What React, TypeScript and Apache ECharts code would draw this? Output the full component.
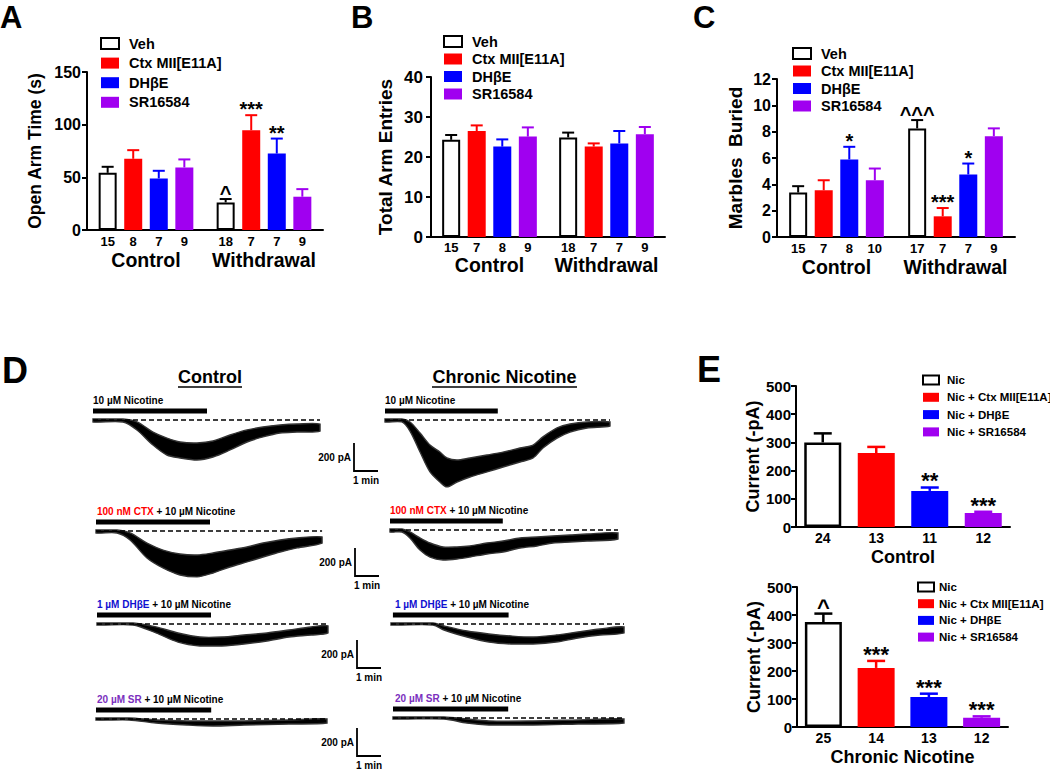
import React, { useEffect, useRef } from 'react';
import * as echarts from 'echarts';

const FONT = '"Liberation Sans", Arial, Helvetica, sans-serif';
const RED = '#FF0000';
const BLUE = '#0000FF';
const PURPLE = '#A000F0';
const fills = ['#FFFFFF', RED, BLUE, PURPLE];
const strokes = ['#000000', RED, BLUE, PURPLE];

// ---------------- Panels A-C data ----------------
const groupNames = ['Control', 'Withdrawal'];
const treatments = ['Veh', 'Ctx MII[E11A]', 'DHβE', 'SR16584'];

const openArmTicks = [0, 50, 100, 150];
const openArmMean = [[54.3, 26.2], [67.6, 94.7], [49.0, 72.6], [59.4, 31.6]];
const openArmUpper = [[60.0, 29.4], [75.8, 109.0], [56.2, 86.8], [67.0, 38.8]];
const openArmN = [['15', '18'], ['8', '7'], ['7', '7'], ['9', '9']];
const openArmMarks = [['', '^'], ['', '***'], ['', '**'], ['', '']];

const armEntryTicks = [0, 10, 20, 30, 40];
const armEntryMean = [[24.3, 24.9], [26.5, 22.6], [22.6, 23.4], [25.1, 25.7]];
const armEntryUpper = [[25.5, 26.1], [27.9, 23.4], [24.4, 26.5], [27.4, 27.5]];
const armEntryN = [['15', '18'], ['7', '7'], ['8', '7'], ['9', '9']];
const armEntryMarks = [['', ''], ['', ''], ['', ''], ['', '']];

const marbleTicks = [0, 2, 4, 6, 8, 10, 12];
const marbleMean = [[3.38, 8.25], [3.55, 1.57], [5.89, 4.75], [4.31, 7.66]];
const marbleUpper = [[3.86, 8.88], [4.31, 2.2], [6.85, 5.58], [5.2, 8.25]];
const marbleN = [['15', '17'], ['7', '7'], ['8', '7'], ['10', '9']];
const marbleMarks = [['', '^^^'], ['', '***'], ['*', '*'], ['', '']];

// ---------------- Panel E data ----------------
const ephysTreatments = ['Nic', 'Nic + Ctx MII[E11A]', 'Nic + DHβE', 'Nic + SR16584'];
const currentTicks = [0, 100, 200, 300, 400, 500];
const currentCtlMean = [300, 262, 128, 50];
const currentCtlUpper = [332, 284, 140, 54];
const currentCtlN = ['24', '13', '11', '12'];
const currentCtlMarks = ['', '', '**', '***'];
const currentChrMean = [375, 211, 107, 33];
const currentChrUpper = [405, 236, 119, 38];
const currentChrN = ['25', '14', '13', '12'];
const currentChrMarks = ['^', '***', '***', '***'];

// ---------------- Panel D traces: [time (min), upper edge (pA), lower edge (pA)] ----------------
const traceCtl1 = [[0, 7, -14], [1.25, 7, -14], [1.83, -14, -71], [2.5, -86, -179], [3.08, -129, -250], [3.63, -157, -271], [4.33, -164, -286], [5.0, -150, -264], [5.71, -107, -214], [6.42, -71, -157], [7.08, -50, -121], [7.79, -36, -93], [8.5, -29, -86], [9.46, -29, -79]];
const traceCtl2 = [[0, 7, -14], [0.875, 7, -14], [1.42, -14, -64], [2.125, -86, -193], [2.79, -136, -264], [3.5, -164, -314], [4.21, -171, -328], [4.875, -157, -300], [5.58, -136, -257], [6.29, -114, -221], [6.96, -86, -186], [7.67, -64, -150], [8.375, -50, -121], [9.42, -43, -86]];
const traceCtl3 = [[0, 7, -7], [1.5, 7, -7], [2.46, -21, -64], [3.375, -64, -129], [4.29, -93, -157], [5.2, -93, -157], [6.125, -79, -143], [7.08, -64, -121], [8.0, -43, -93], [8.92, -21, -79], [9.625, -14, -64]];
const traceCtl4 = [[0, 7, -7], [1.375, 7, -7], [2.5, -7, -29], [3.79, -14, -43], [4.875, -14, -50], [6.17, -14, -43], [8.04, -7, -36], [9.625, 0, -29]];
const traceChr1 = [[0, 7, -14], [0.7, 7, -14], [1.04, -14, -79], [1.46, -93, -229], [1.875, -179, -371], [2.29, -229, -443], [2.58, -271, -478], [3.0, -286, -443], [3.54, -271, -407], [4.25, -250, -371], [4.92, -229, -336], [5.625, -200, -300], [6.17, -179, -271], [6.58, -121, -200], [7.17, -57, -129], [7.71, -29, -86], [8.42, -14, -57], [9.375, -14, -43]];
const traceChr2 = [[0, 7, -14], [0.5, 7, -14], [0.83, -14, -57], [1.25, -57, -143], [1.67, -93, -193], [2.21, -121, -214], [2.79, -121, -207], [3.33, -114, -193], [4.04, -93, -171], [4.71, -79, -157], [5.42, -57, -129], [6.125, -50, -114], [6.79, -43, -93], [7.5, -36, -86], [8.21, -29, -79], [9.5, -21, -64]];
const traceChr3 = [[0, 7, -7], [1.75, 7, -7], [2.21, -14, -43], [3.17, -50, -93], [4.08, -71, -129], [5.0, -86, -143], [5.92, -93, -143], [6.875, -79, -129], [7.79, -57, -100], [8.71, -36, -79], [9.71, -21, -64]];
const traceChr4 = [[0, 7, -7], [2.125, 7, -7], [3.08, -7, -36], [4.0, -21, -50], [5.83, -21, -50], [7.71, -14, -43], [9.625, -7, -36]];
// drug application window (min)
const drugWindows = [[0, 4.75], [0, 4.75], [0, 4.75], [0, 4.8], [0, 4.7], [0, 4.7], [0.08, 4.9], [0, 4.8]];
const drugLabels = [
  [['10 µM Nicotine', '#000']],
  [['100 nM CTX', RED], [' + 10 µM Nicotine', '#000']],
  [['1 µM DHβE', '#1010D0'], [' + 10 µM Nicotine', '#000']],
  [['20 µM SR', '#7B2FBE'], [' + 10 µM Nicotine', '#000']],
];

// ---------------- layout ----------------
const PX_PER_MIN = 24;
const PA_PER_PX = 200 / 28;
const TRACE_MIN = -500;
const TRACE_MAX = 100;
const DRUG_LEVEL = 64;

const traceData = [traceCtl1, traceCtl2, traceCtl3, traceCtl4, traceChr1, traceChr2, traceChr3, traceChr4];
const traceBoxes = [
  { left: 93, base: 420, labelX: 93 }, { left: 96, base: 531, labelX: 97 },
  { left: 97, base: 624, labelX: 97 }, { left: 96, base: 719, labelX: 97 },
  { left: 385, base: 420, labelX: 385 }, { left: 390, base: 530, labelX: 390 },
  { left: 391, base: 624, labelX: 395 }, { left: 393, base: 718, labelX: 395 },
];
const scaleBarPos = [{ x: 354, y: 443 }, { x: 355, y: 548 }, { x: 357, y: 640 }, { x: 357, y: 728 }];

const abcPanels = [
  { mean: openArmMean, upper: openArmUpper, n: openArmN, marks: openArmMarks, ticks: openArmTicks, name: 'Open Arm Time (s)',
    grid: { left: 87, top: 72, width: 236, height: 158 }, nameGap: 43, nameSize: 17.5, tickSize: 16, tickMargin: 6, catMargin: 20, nGap: 11,
    legend: { left: 100, top: 36, itemGap: 4.6 } },
  { mean: armEntryMean, upper: armEntryUpper, n: armEntryN, marks: armEntryMarks, ticks: armEntryTicks, name: 'Total Arm Entries',
    grid: { left: 431, top: 77, width: 234, height: 160 }, nameGap: 36, nameSize: 19, tickSize: 17, tickMargin: 8, catMargin: 18, nGap: 10,
    legend: { left: 443, top: 34, itemGap: 2.5 } },
  { mean: marbleMean, upper: marbleUpper, n: marbleN, marks: marbleMarks, ticks: marbleTicks, name: 'Marbles  Buried',
    grid: { left: 777, top: 79, width: 238, height: 158 }, nameGap: 32, nameSize: 19, tickSize: 16, tickMargin: 6, catMargin: 20, nGap: 11,
    legend: { left: 792, top: 46, itemGap: 2.5 } },
];

const ePanels = [
  { mean: currentCtlMean, upper: currentCtlUpper, n: currentCtlN, marks: currentCtlMarks, title: 'Control',
    grid: { left: 796, top: 386, width: 214, height: 141 }, legend: { left: 922, top: 374, itemGap: 5.3, pad: 3 } },
  { mean: currentChrMean, upper: currentChrUpper, n: currentChrN, marks: currentChrMarks, title: 'Chronic Nicotine',
    grid: { left: 797, top: 587, width: 211, height: 140 }, legend: { left: 917, top: 581, itemGap: 4.7, pad: 0 } },
];

const BAR_W = 18;
const BAR_GAP = 0.42;

function txt(fontSize: number, extra: any = {}) {
  return { fontSize, fontWeight: 'bold', fontFamily: FONT, color: '#000', ...extra };
}

function errRender(meta: any[], step: number, cap: number, lw: number, nSize: number, nGap: number, markSize: number, centered: boolean) {
  return (params: any, api: any) => {
    const cat = api.value(0);
    const i = api.value(1);
    const mean = api.value(2);
    const up = api.value(3);
    const base = api.coord([cat, 0]);
    const xc = base[0] + (centered ? 0 : step * (i - 1.5));
    const ym = api.coord([cat, mean])[1];
    const yu = api.coord([cat, up])[1];
    const col = strokes[i];
    const m = meta[params.dataIndex];
    const children: any[] = [
      { type: 'line', shape: { x1: xc, y1: ym, x2: xc, y2: yu }, style: { stroke: col, lineWidth: lw } },
      { type: 'line', shape: { x1: xc - cap / 2, y1: yu, x2: xc + cap / 2, y2: yu }, style: { stroke: col, lineWidth: lw } },
    ];
    if (m.n) {
      children.push({ type: 'text', style: { text: m.n, x: xc, y: base[1] + nGap, align: 'center', textAlign: 'center', verticalAlign: 'middle', textVerticalAlign: 'middle', fontSize: nSize, fontWeight: 'bold', fontFamily: FONT, fill: '#000' } });
    }
    if (m.mark) {
      children.push({ type: 'text', style: { text: m.mark, x: xc, y: yu + 0.2 * markSize, align: 'center', textAlign: 'center', verticalAlign: 'bottom', textVerticalAlign: 'bottom', fontSize: markSize, fontWeight: 'bold', fontFamily: FONT, fill: '#000' } });
    }
    return { type: 'group', children };
  };
}

function valueAxis(g: number, ticks: number[], name: string, nameGap: number, nameSize: number, tickSize: number, margin: number) {
  return {
    type: 'value', gridIndex: g, min: ticks[0], max: ticks[ticks.length - 1], interval: ticks[1] - ticks[0],
    name, nameLocation: 'middle', nameGap, nameTextStyle: txt(nameSize),
    axisLine: { show: true, lineStyle: { color: '#000', width: 2 } },
    axisTick: { show: true, length: 5, lineStyle: { color: '#000', width: 2 } },
    axisLabel: txt(tickSize, { margin }),
    splitLine: { show: false },
  };
}

function buildOption() {
  const grid: any[] = [];
  const xAxis: any[] = [];
  const yAxis: any[] = [];
  const series: any[] = [];
  const legend: any[] = [];
  const graphic: any[] = [];

  // ---- A, B, C
  abcPanels.forEach((P, p) => {
    grid.push({ ...P.grid, containLabel: false, outerBoundsMode: 'none' });
    xAxis.push({
      type: 'category', gridIndex: p, data: groupNames,
      axisLine: { show: true, lineStyle: { color: '#000', width: 2 } },
      axisTick: { show: false },
      axisLabel: txt(19.5, { margin: P.catMargin, interval: 0 }),
    });
    yAxis.push(valueAxis(p, P.ticks, P.name, P.nameGap, P.nameSize, P.tickSize, P.tickMargin));
    treatments.forEach((name, i) => {
      series.push({
        type: 'bar', name, xAxisIndex: p, yAxisIndex: p, data: P.mean[i], barWidth: BAR_W, barGap: `${BAR_GAP * 100}%`,
        itemStyle: { color: fills[i], borderColor: strokes[i], borderWidth: i === 0 ? 2 : 0 }, silent: true,
      });
    });
    const items: any[] = [];
    const meta: any[] = [];
    treatments.forEach((_, i) => {
      groupNames.forEach((__, c) => {
        items.push([c, i, P.mean[i][c], P.upper[i][c]]);
        meta.push({ n: P.n[i][c], mark: P.marks[i][c] });
      });
    });
    series.push({
      type: 'custom', xAxisIndex: p, yAxisIndex: p, data: items, encode: { x: 0, y: 3 }, clip: false, silent: true, z: 5,
      renderItem: errRender(meta, BAR_W * (1 + BAR_GAP), 12, 2, 13, P.nGap, 20, false),
    });
    legend.push({
      left: P.legend.left, top: P.legend.top, orient: 'vertical', itemWidth: 18, itemHeight: 11, itemGap: P.legend.itemGap,
      icon: 'rect', data: treatments, selectedMode: false, padding: 0,
      textStyle: txt(14.5, { lineHeight: 14, padding: [0, 0, 0, 5] }),
    });
  });

  // ---- E
  ePanels.forEach((P, e) => {
    const g = 3 + e;
    grid.push({ ...P.grid, containLabel: false, outerBoundsMode: 'none' });
    xAxis.push({
      type: 'category', gridIndex: g, data: P.n,
      name: P.title, nameLocation: 'middle', nameGap: 21, nameTextStyle: txt(18),
      axisLine: { show: true, lineStyle: { color: '#000', width: 2 } },
      axisTick: { show: false },
      axisLabel: txt(14, { margin: 4, interval: 0 }),
    });
    yAxis.push(valueAxis(g, currentTicks, 'Current (-pA)', 33, 18, 15, 5));
    ephysTreatments.forEach((name, i) => {
      series.push({
        type: 'bar', name, xAxisIndex: g, yAxisIndex: g, stack: 'e' + e, barWidth: 37,
        data: P.mean.map((v, j) => (j === i ? v : '-')),
        itemStyle: { color: fills[i], borderColor: strokes[i], borderWidth: i === 0 ? 2.5 : 0 }, silent: true,
      });
    });
    const items = P.mean.map((v, j) => [j, j, v, P.upper[j]]);
    const meta = P.mean.map((_, j) => ({ n: '', mark: P.marks[j] }));
    series.push({
      type: 'custom', xAxisIndex: g, yAxisIndex: g, data: items, encode: { x: 0, y: 3 }, clip: false, silent: true, z: 5,
      renderItem: errRender(meta, 0, 18, 2.5, 14, 10, 22, true),
    });
    legend.push({
      left: P.legend.left, top: P.legend.top, orient: 'vertical', itemWidth: 16, itemHeight: 9, itemGap: P.legend.itemGap,
      icon: 'rect', data: ephysTreatments, selectedMode: false, padding: 0,
      textStyle: txt(11.5, { lineHeight: 12, padding: [0, 0, 0, P.legend.pad] }),
    });
  });

  // ---- D traces
  traceData.forEach((tr, k) => {
    const g = 5 + k;
    const box = traceBoxes[k];
    const T = tr[tr.length - 1][0];
    grid.push({
      left: box.left, top: box.base - TRACE_MAX / PA_PER_PX, width: T * PX_PER_MIN,
      height: (TRACE_MAX - TRACE_MIN) / PA_PER_PX, containLabel: false, outerBoundsMode: 'none',
    });
    xAxis.push({ type: 'value', gridIndex: g, min: 0, max: T, show: false });
    yAxis.push({ type: 'value', gridIndex: g, min: TRACE_MIN, max: TRACE_MAX, show: false });
    series.push({
      type: 'custom', xAxisIndex: g, yAxisIndex: g, data: tr, encode: { x: 0, y: [1, 2] }, clip: false, silent: true, z: 2,
      renderItem: (params: any, api: any) => {
        if (params.dataIndex !== 0) return null;
        const top = tr.map((p) => api.coord([p[0], p[1]]));
        const bot = tr.map((p) => api.coord([p[0], p[2]])).reverse();
        const pts = top.concat(bot);
        const xs = pts.map((q: number[]) => q[0]);
        const ys = pts.map((q: number[]) => q[1]);
        return {
          type: 'polygon',
          shape: { points: pts, smooth: 0.3, smoothConstraint: [[Math.min(...xs), Math.min(...ys)], [Math.max(...xs), Math.max(...ys)]] },
          style: { fill: '#000', stroke: '#333', lineWidth: 1.4 },
        };
      },
    });
    series.push({
      type: 'line', xAxisIndex: g, yAxisIndex: g, data: [[0, 0], [T, 0]], symbol: 'none', silent: true, z: 3,
      lineStyle: { type: [5, 3], width: 1.3, color: '#000' },
    });
    series.push({
      type: 'line', xAxisIndex: g, yAxisIndex: g, data: [[drugWindows[k][0], DRUG_LEVEL], [drugWindows[k][1], DRUG_LEVEL]],
      symbol: 'none', silent: true, z: 3, lineStyle: { width: 5, color: '#000', cap: 'butt' },
    });
    // drug label
    const parts = drugLabels[k % 4];
    const rich: any = {};
    let text = '';
    parts.forEach((pt, j) => {
      rich['p' + j] = { fill: pt[1], color: pt[1], fontSize: 10, fontWeight: 'bold', fontFamily: FONT };
      text += `{p${j}|${pt[0]}}`;
    });
    graphic.push({
      type: 'text', x: box.labelX, y: box.base - 19.5, silent: true,
      style: { text, rich, fontSize: 10, fontWeight: 'bold', fontFamily: FONT, textAlign: 'left', textVerticalAlign: 'middle', align: 'left', verticalAlign: 'middle' },
    });
  });

  // ---- scale bars
  scaleBarPos.forEach((s) => {
    const h = 200 / PA_PER_PX;
    const w = PX_PER_MIN;
    graphic.push({ type: 'polyline', silent: true, shape: { points: [[s.x, s.y], [s.x, s.y + h], [s.x + w, s.y + h]] }, style: { stroke: '#000', lineWidth: 1.8, fill: null } });
    graphic.push({ type: 'text', x: s.x - 3, y: s.y + h / 2, silent: true, style: { text: '200 pA', fontSize: 10, fontWeight: 'bold', fontFamily: FONT, fill: '#000', textAlign: 'right', textVerticalAlign: 'middle', align: 'right', verticalAlign: 'middle' } });
    graphic.push({ type: 'text', x: s.x + w / 2, y: s.y + h + 9, silent: true, style: { text: '1 min', fontSize: 10, fontWeight: 'bold', fontFamily: FONT, fill: '#000', textAlign: 'center', textVerticalAlign: 'middle', align: 'center', verticalAlign: 'middle' } });
  });

  // ---- D column titles
  const titles = [{ t: 'Control', cx: 210, w: 64 }, { t: 'Chronic Nicotine', cx: 504.5, w: 145 }];
  titles.forEach((tt) => {
    graphic.push({ type: 'text', x: tt.cx, y: 377, silent: true, style: { text: tt.t, fontSize: 18, fontWeight: 'bold', fontFamily: FONT, fill: '#000', textAlign: 'center', textVerticalAlign: 'middle', align: 'center', verticalAlign: 'middle' } });
    graphic.push({ type: 'line', silent: true, shape: { x1: tt.cx - tt.w / 2, y1: 387, x2: tt.cx + tt.w / 2, y2: 387 }, style: { stroke: '#000', lineWidth: 1.5 } });
  });

  // ---- panel letters
  const letters = [
    { t: 'A', x: 0, y: 17.5, s: 31 }, { t: 'B', x: 351, y: 17, s: 31 }, { t: 'C', x: 693, y: 17.5, s: 31 },
    { t: 'D', x: 2, y: 370, s: 36 }, { t: 'E', x: 697, y: 369, s: 36 },
  ];
  letters.forEach((l) => {
    graphic.push({ type: 'text', x: l.x, y: l.y, silent: true, style: { text: l.t, fontSize: l.s, fontWeight: 'bold', fontFamily: FONT, fill: '#000', textAlign: 'left', textVerticalAlign: 'middle', align: 'left', verticalAlign: 'middle' } });
  });

  return {
    animation: false,
    backgroundColor: '#ffffff',
    textStyle: { fontFamily: FONT },
    grid, xAxis, yAxis, series, legend, graphic,
  };
}

export default function App() {
  const ref = useRef<HTMLDivElement>(null);
  useEffect(() => {
    document.body.style.margin = '0';
    const chart = echarts.init(ref.current as HTMLDivElement, null, { renderer: 'svg' });
    chart.setOption(buildOption() as any);
    return () => chart.dispose();
  }, []);
  return <div ref={ref} style={{ width: 1050, height: 769, background: '#fff' }} />;
}
